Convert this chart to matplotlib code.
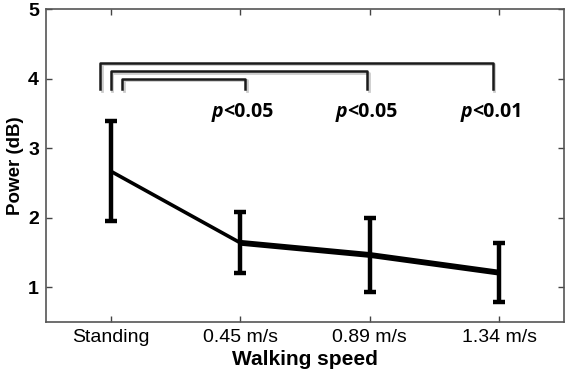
import matplotlib
matplotlib.use("Agg")
import matplotlib.pyplot as plt
import matplotlib.transforms as mtransforms
import numpy as np

categories = ["Standing", "0.45 m/s", "0.89 m/s", "1.34 m/s"]
power_mean = [2.67, 1.64, 1.465, 1.21]
power_err = [0.72, 0.44, 0.53, 0.42]
y_ticks = [1, 2, 3, 4, 5]

# significance brackets
brackets_left = [0.92, 1.0, 1.09]
brackets_right = [3.95, 2.98, 2.04]
brackets_top = [4.23, 4.11, 4.0]
bracket_bottom = 3.85
p_labels = ["<0.01", "<0.05", "<0.05"]
p_label_x = [3.95, 2.99, 2.03]
p_label_y = 3.52

plt.rcParams['font.family'] = ['Liberation Sans', 'DejaVu Sans']

fig = plt.figure(figsize=(5.71, 3.76), dpi=100)
ax = fig.add_axes([0.0806, 0.1436, 0.9071, 0.8316])

x = np.arange(1, len(categories) + 1)

ax.plot(x[:2], power_mean[:2], color='black', lw=2.6, solid_capstyle='butt', zorder=3)
ax.plot(x[1:], power_mean[1:], color='black', lw=4.2, solid_capstyle='butt', zorder=3)
ax.errorbar(x, power_mean, yerr=power_err, fmt='none', ecolor='black',
            elinewidth=3.2, capsize=4, capthick=3.2, zorder=4)

shadow = ax.transData + mtransforms.ScaledTranslation(1.5/100, -1.5/100, fig.dpi_scale_trans)
for xl, xr, yt in zip(brackets_left, brackets_right, brackets_top):
    ax.plot([xl, xl, xr, xr], [bracket_bottom, yt, yt, bracket_bottom],
            color='#cccccc', lw=2.0, zorder=1, transform=shadow)
    ax.plot([xl, xl, xr, xr], [bracket_bottom, yt, yt, bracket_bottom],
            color='#1a1a1a', lw=1.8, zorder=2)

for lab, lx in zip(p_labels, p_label_x):
    ax.annotate("p", (lx, p_label_y), ha='right', va='center', fontsize=14,
                fontweight='bold', fontstyle='italic', family=['Open Sans', 'DejaVu Sans'],
                xytext=(-15, 0), textcoords='offset points')
    ax.annotate(lab, (lx, p_label_y), ha='left', va='center', fontsize=14,
                fontweight='bold', family=['Open Sans', 'DejaVu Sans'],
                xytext=(-15, 0), textcoords='offset points')

ax.set_xlim(0.5, 4.5)
ax.set_ylim(0.5, 5)
ax.set_xticks(x)
ax.set_xticklabels(categories, fontsize=14)
ax.set_yticks(y_ticks)
ax.set_yticklabels([str(v) for v in y_ticks], fontsize=14, fontweight='bold')
ax.tick_params(direction='in', top=True, right=True, length=4, width=1, color='#444444', pad=5)
for s in ax.spines.values():
    s.set_color('#555555')
    s.set_linewidth(1.2)

ax.set_xlabel("Walking speed", fontsize=15, fontweight='bold', labelpad=3)
ax.set_ylabel("Power (dB)", fontsize=13.5, fontweight='bold', labelpad=3)

fig.savefig("out.png", dpi=100)
